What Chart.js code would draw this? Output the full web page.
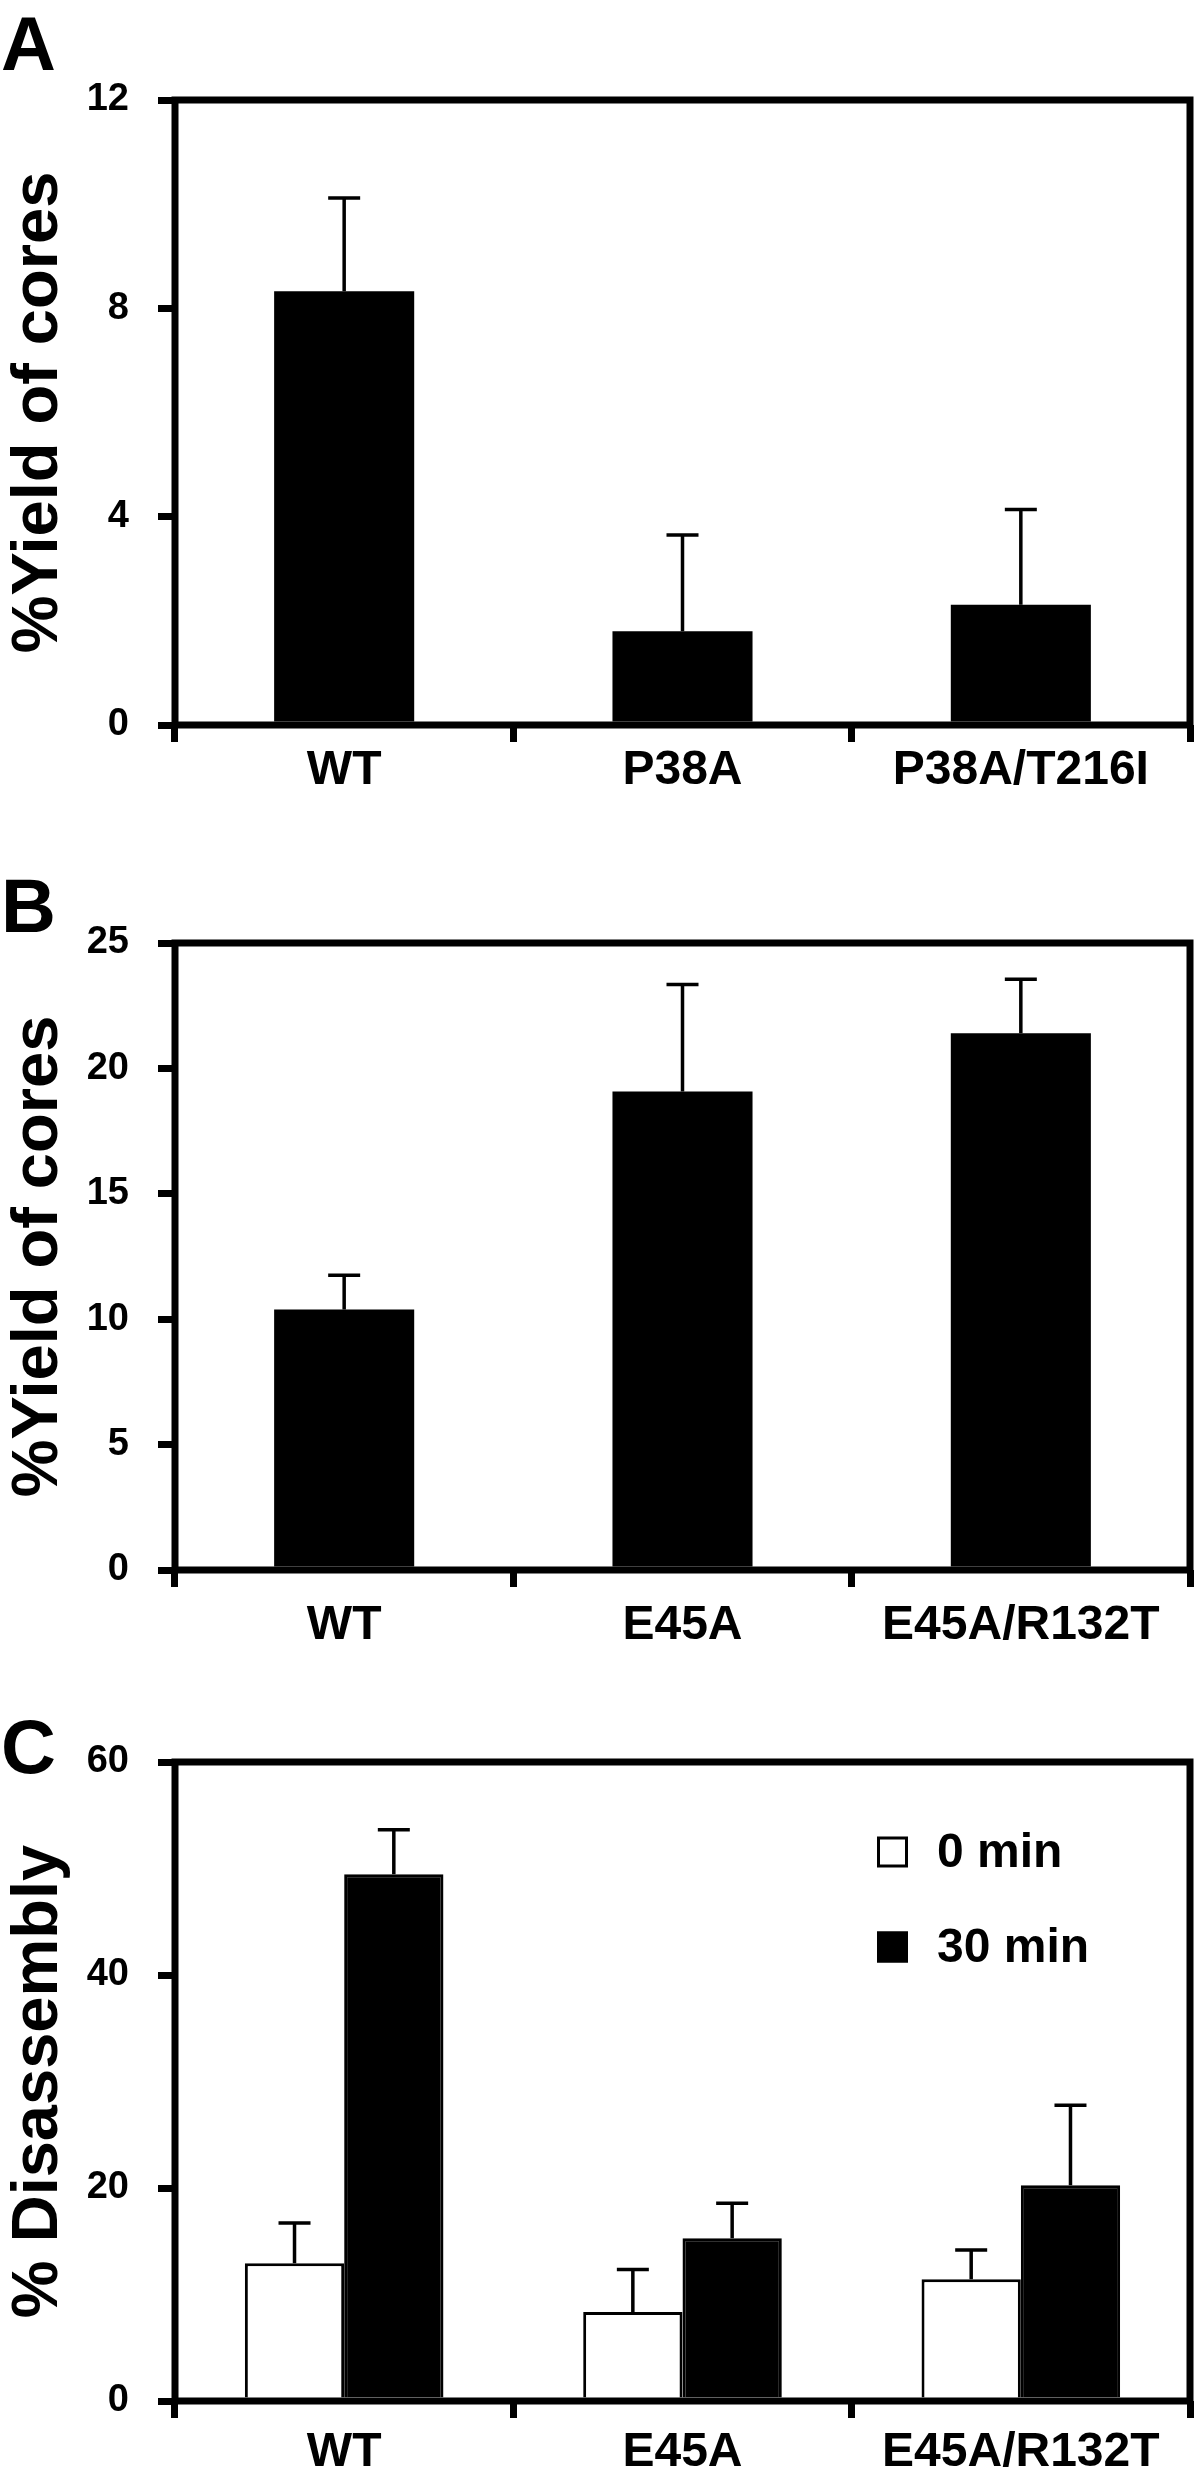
<!DOCTYPE html>
<html>
<head>
<meta charset="utf-8">
<script src="https://cdn.jsdelivr.net/npm/chart.js@4.4.1/dist/chart.umd.min.js"></script>
<style>
  body { margin: 0; background: #fff; }
  canvas { display: block; }
</style>
</head>
<body>
<canvas id="chartA" width="1200" height="820"></canvas>
<canvas id="chartB" width="1200" height="830"></canvas>
<canvas id="chartC" width="1200" height="827"></canvas>
<script>
// Panel A: core yield, P38A mutants
const categoriesA = ["WT", "P38A", "P38A/T216I"];
const yieldA = [8.33, 1.8, 2.31];
const errorA = [1.79, 1.85, 1.83];
const ticksA = { min: 0, max: 12, step: 4 };

// Panel B: core yield, E45A mutants
const categoriesB = ["WT", "E45A", "E45A/R132T"];
const yieldB = [10.39, 19.08, 21.4];
const errorB = [1.36, 4.27, 2.15];
const ticksB = { min: 0, max: 25, step: 5 };

// Panel C: disassembly at 0 and 30 min
const categoriesC = ["WT", "E45A", "E45A/R132T"];
const seriesNamesC = ["0 min", "30 min"];
const disasm0 = [12.94, 8.36, 11.44];
const disasm0Err = [3.78, 3.98, 2.74];
const disasm30 = [49.45, 15.27, 20.25];
const disasm30Err = [4.18, 3.29, 7.51];
const ticksC = { min: 0, max: 60, step: 20 };

const FONT = "'Liberation Sans', Arial, Helvetica, sans-serif";

// draws the error bars, the box frame, panel letter and in-plot legend
const panelExtras = {
  id: "panelExtras",
  afterDatasetsDraw(chart, args, opts) {
    const ctx = chart.ctx;
    const area = chart.chartArea;
    const yScale = chart.scales.y;
    ctx.save();
    ctx.strokeStyle = "#000";
    ctx.lineWidth = 3.5;
    chart.data.datasets.forEach((ds, i) => {
      const meta = chart.getDatasetMeta(i);
      meta.data.forEach((bar, j) => {
        const top = yScale.getPixelForValue(ds.data[j] + ds.errors[j]);
        ctx.beginPath();
        ctx.moveTo(bar.x, bar.y);
        ctx.lineTo(bar.x, top);
        ctx.moveTo(bar.x - 16, top);
        ctx.lineTo(bar.x + 16, top);
        ctx.stroke();
      });
    });
    ctx.lineWidth = 7;
    ctx.strokeRect(area.left, area.top, area.right - area.left, area.bottom - area.top);

    // panel letter
    ctx.fillStyle = "#000";
    ctx.font = "bold 76px " + FONT;
    ctx.textBaseline = "alphabetic";
    ctx.textAlign = "left";
    ctx.fillText(opts.letter, 1, opts.letterY);

    // legend inside plot
    if (opts.legend) {
      ctx.font = "bold 48px " + FONT;
      ctx.textBaseline = "middle";
      chart.data.datasets.forEach((ds, i) => {
        const cy = area.top + opts.legend.y[i];
        const bx = area.left + opts.legend.x;
        ctx.fillStyle = ds.backgroundColor;
        ctx.fillRect(bx, cy - 15.5, 31, 31);
        ctx.lineWidth = 3;
        ctx.strokeRect(bx + 1.5, cy - 14, 28, 28);
        ctx.fillStyle = "#000";
        ctx.fillText(ds.label, bx + 60, cy + 2);
      });
    }
    ctx.restore();
  },
};

function makeOptions(ticks, yTitle, xHeight, topPad, labelPad, extras) {
  return {
    responsive: false,
    devicePixelRatio: 1,
    animation: false,
    layout: { padding: { top: topPad, right: 10, left: 0, bottom: 0 } },
    plugins: {
      legend: { display: false },
      tooltip: { enabled: false },
      panelExtras: extras,
    },
    scales: {
      x: {
        afterFit: (scale) => { scale.height = xHeight; },
        border: { display: false },
        grid: {
          offset: true,
          drawOnChartArea: false,
          drawTicks: true,
          tickLength: 17,
          lineWidth: 7,
          color: "#000",
        },
        ticks: {
          color: "#000",
          padding: labelPad,
          maxRotation: 0,
          autoSkip: false,
          font: { family: FONT, size: 48, weight: "bold" },
        },
      },
      y: {
        min: ticks.min,
        max: ticks.max,
        afterFit: (scale) => { scale.width = 175; },
        border: { display: false },
        grid: {
          drawOnChartArea: false,
          drawTicks: true,
          tickLength: 17,
          lineWidth: 7,
          color: "#000",
        },
        ticks: {
          stepSize: ticks.step,
          color: "#000",
          padding: 29,
          font: { family: FONT, size: 38, weight: "bold" },
        },
        title: {
          display: true,
          text: yTitle,
          color: "#000",
          padding: 0,
          font: { family: FONT, size: 65, weight: "bold" },
        },
      },
    },
  };
}

new Chart(document.getElementById("chartA").getContext("2d"), {
  type: "bar",
  data: {
    labels: categoriesA,
    datasets: [
      {
        label: "Yield",
        data: yieldA,
        errors: errorA,
        backgroundColor: "#000",
        barPercentage: 0.414,
        categoryPercentage: 1,
      },
    ],
  },
  options: makeOptions(ticksA, "%Yield of cores", 95, 100, 0, { letter: "A", letterY: 70 }),
  plugins: [panelExtras],
});

new Chart(document.getElementById("chartB").getContext("2d"), {
  type: "bar",
  data: {
    labels: categoriesB,
    datasets: [
      {
        label: "Yield",
        data: yieldB,
        errors: errorB,
        backgroundColor: "#000",
        barPercentage: 0.414,
        categoryPercentage: 1,
      },
    ],
  },
  options: makeOptions(ticksB, "%Yield of cores", 80, 123, 10, { letter: "B", letterY: 112 }),
  plugins: [panelExtras],
});

new Chart(document.getElementById("chartC").getContext("2d"), {
  type: "bar",
  data: {
    labels: categoriesC,
    datasets: [
      {
        label: seriesNamesC[0],
        data: disasm0,
        errors: disasm0Err,
        backgroundColor: "#fff",
        borderColor: "#000",
        borderWidth: 3,
        barPercentage: 1,
        categoryPercentage: 0.587,
      },
      {
        label: seriesNamesC[1],
        data: disasm30,
        errors: disasm30Err,
        backgroundColor: "#000",
        borderColor: "#000",
        borderWidth: 3,
        barPercentage: 1,
        categoryPercentage: 0.587,
      },
    ],
  },
  options: makeOptions(ticksC, "% Disassembly", 76, 112, 6, {
    letter: "C",
    letterY: 123,
    legend: { x: 702, y: [90, 185] },
  }),
  plugins: [panelExtras],
});
</script>
</body>
</html>
